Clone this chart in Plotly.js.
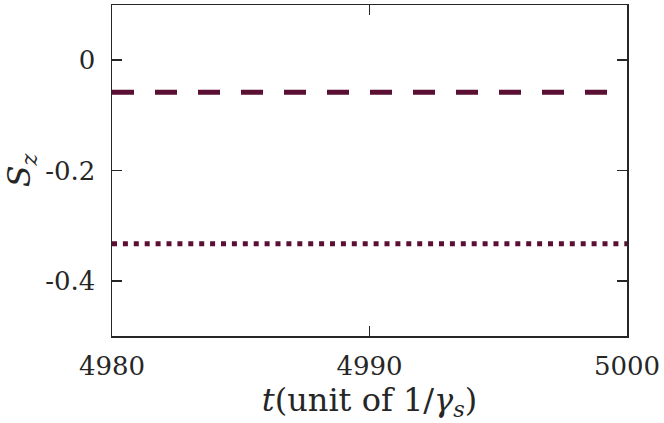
<!DOCTYPE html>
<html>
<head>
<meta charset="utf-8">
<script src="https://cdn.plot.ly/plotly-3.0.1.min.js"></script>
<style>html,body{margin:0;padding:0;background:#fff;}#chart{width:664px;height:423px;}</style>
</head>
<body>
<div id="chart"></div>
<script>
const tValues = [4980, 4985, 4990, 4995, 5000];
const szDashed = [-0.058, -0.058, -0.058, -0.058, -0.058];
const szDotted = [-0.333, -0.333, -0.333, -0.333, -0.333];
const xTickVals = [4980, 4990, 5000];
const xTickText = ['4980', '4990', '5000'];
const yTickVals = [0, -0.2, -0.4];
const yTickText = ['0', '-0.2', '-0.4'];

const lineColor = '#5a0f33';
const font = 'DejaVu Serif';

const traces = [
  {x: tValues, y: szDashed, mode: 'lines', line: {color: lineColor, width: 5, dash: '22px,21px'}, showlegend: false, hoverinfo: 'skip'},
  {x: tValues, y: szDotted, mode: 'lines', line: {color: lineColor, width: 5, dash: '5px,5.9px'}, showlegend: false, hoverinfo: 'skip'}
];

const axisCommon = {
  showgrid: false, zeroline: false, showline: true, mirror: 'ticks',
  linecolor: '#262626', linewidth: 1.5, ticks: 'inside', ticklen: 10, tickwidth: 1.5, tickcolor: '#262626',
  tickfont: {family: font, size: 26, color: '#262626'}
};

const layout = {
  width: 664, height: 423,
  margin: {l: 112, r: 37, t: 5, b: 87},
  paper_bgcolor: '#fff', plot_bgcolor: '#fff',
  font: {family: font},
  xaxis: Object.assign({}, axisCommon, {
    range: [4980, 5000], tickvals: xTickVals, ticktext: xTickText, ticklabelstandoff: 6,
    title: {text: '<i>t</i>(unit of 1/<i>γ</i><sub><i>s</i></sub>)', font: {family: font, size: 32, color: '#262626'}, standoff: 0}
  }),
  yaxis: Object.assign({}, axisCommon, {
    range: [-0.5, 0.1], tickvals: yTickVals, ticktext: yTickText, ticklabelstandoff: 10,
    title: {text: '<i>S</i><sub><i>z</i></sub>', font: {family: font, size: 32, color: '#262626'}, standoff: 8}
  })
};

Plotly.newPlot('chart', traces, layout, {displayModeBar: false, staticPlot: true});
</script>
</body>
</html>
